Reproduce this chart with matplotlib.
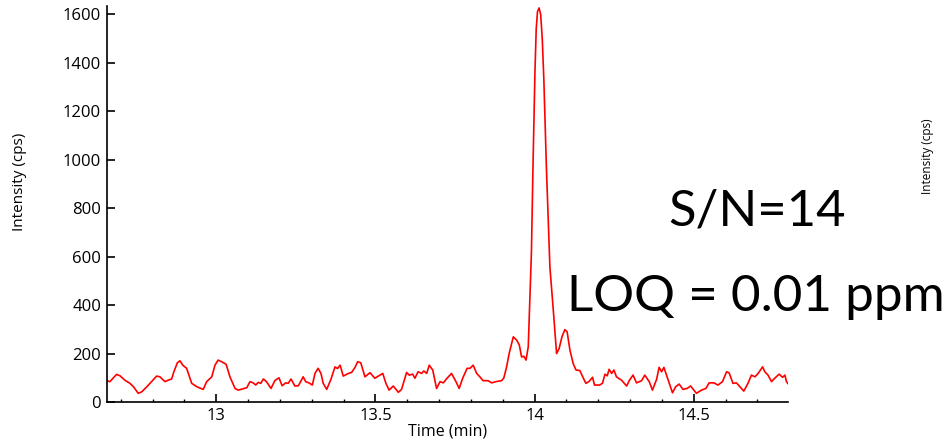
import matplotlib.pyplot as plt
from matplotlib.ticker import MultipleLocator

# chromatogram trace: retention time (min) and intensity (cps)
time_min = [
    12.656, 12.666, 12.687, 12.698, 12.713, 12.729, 12.740, 12.755, 12.766, 12.782,
    12.797, 12.813, 12.823, 12.839, 12.849, 12.860, 12.867, 12.878, 12.886, 12.895,
    12.907, 12.923, 12.939, 12.959, 12.970, 12.986, 12.996, 13.006, 13.017, 13.031,
    13.043, 13.059, 13.069, 13.096, 13.106, 13.116, 13.124, 13.132, 13.140, 13.148,
    13.158, 13.172, 13.184, 13.197, 13.207, 13.218, 13.226, 13.235, 13.247, 13.258,
    13.273, 13.281, 13.291, 13.302, 13.310, 13.320, 13.329, 13.336, 13.347, 13.360,
    13.373, 13.381, 13.389, 13.399, 13.415, 13.425, 13.436, 13.444, 13.454, 13.467,
    13.483, 13.498, 13.509, 13.523, 13.533, 13.543, 13.556, 13.572, 13.582, 13.598,
    13.606, 13.617, 13.624, 13.634, 13.645, 13.652, 13.661, 13.669, 13.680, 13.692,
    13.703, 13.713, 13.725, 13.739, 13.753, 13.763, 13.774, 13.788, 13.797, 13.807,
    13.818, 13.828, 13.838, 13.854, 13.865, 13.878, 13.896, 13.903, 13.912, 13.920,
    13.933, 13.944, 13.952, 13.959, 13.966, 13.973, 13.980, 13.985, 13.990, 13.995,
    14.001, 14.005, 14.009, 14.014, 14.019, 14.024, 14.029, 14.037, 14.048, 14.058,
    14.069, 14.077, 14.086, 14.095, 14.102, 14.111, 14.121, 14.130, 14.142, 14.151,
    14.161, 14.171, 14.182, 14.188, 14.204, 14.213, 14.221, 14.228, 14.234, 14.242,
    14.249, 14.257, 14.273, 14.289, 14.297, 14.309, 14.320, 14.336, 14.346, 14.360,
    14.370, 14.383, 14.391, 14.399, 14.406, 14.419, 14.433, 14.443, 14.454, 14.466,
    14.479, 14.490, 14.500, 14.508, 14.524, 14.538, 14.548, 14.563, 14.576, 14.590,
    14.603, 14.611, 14.623, 14.634, 14.645, 14.657, 14.670, 14.681, 14.692, 14.702,
    14.716, 14.723, 14.733, 14.744, 14.754, 14.768, 14.779, 14.786, 14.791, 14.797,
]
intensity_cps = [
    88, 84, 114, 108, 90, 77, 63, 36, 42, 63,
    84, 107, 104, 84, 90, 95, 125, 162, 170, 152,
    139, 77, 63, 52, 84, 104, 152, 173, 166, 156,
    104, 56, 49, 59, 84, 79, 70, 81, 77, 95,
    84, 56, 88, 100, 67, 79, 77, 95, 66, 67,
    104, 84, 79, 70, 118, 139, 118, 77, 52, 93,
    145, 138, 152, 107, 118, 122, 143, 166, 162, 104,
    121, 98, 107, 118, 77, 49, 66, 40, 52, 122,
    111, 115, 98, 125, 118, 128, 118, 152, 132, 56,
    84, 79, 98, 118, 84, 56, 98, 139, 139, 152,
    118, 104, 88, 88, 79, 84, 88, 98, 145, 200,
    269, 255, 235, 186, 189, 173, 228, 420, 620, 980,
    1360, 1540, 1612, 1627, 1600, 1500, 1330, 968, 557, 390,
    200, 221, 270, 299, 290, 214, 159, 132, 130, 104,
    77, 85, 102, 70, 70, 77, 115, 108, 135, 118,
    132, 104, 90, 66, 88, 111, 79, 88, 111, 84,
    49, 93, 143, 125, 143, 93, 38, 63, 74, 52,
    56, 66, 49, 36, 49, 56, 79, 79, 70, 84,
    125, 120, 77, 79, 63, 45, 77, 111, 104, 118,
    145, 125, 111, 84, 98, 115, 102, 111, 84, 74,
]

y_ticks = [0, 200, 400, 600, 800, 1000, 1200, 1400, 1600]
x_ticks = [13, 13.5, 14, 14.5]

plt.rcParams['font.family'] = ['Open Sans', 'DejaVu Sans']

fig = plt.figure(figsize=(9.51, 4.42), dpi=100)
ax = fig.add_axes([0.1122, 0.0905, 0.7168, 0.8959])

ax.plot(time_min, intensity_cps, color='#ff0000', linewidth=1.2)

ax.set_xlim(12.656, 14.797)
ax.set_ylim(0, 1635)
ax.set_xticks(x_ticks)
ax.set_xticklabels(['13', '13.5', '14', '14.5'])
ax.xaxis.set_minor_locator(MultipleLocator(0.1))
ax.set_yticks(y_ticks)

for s in ['top', 'right']:
    ax.spines[s].set_visible(False)
for s in ['left', 'bottom']:
    ax.spines[s].set_linewidth(1.2)

ax.tick_params(axis='both', which='major', direction='in', length=6, width=1.2,
               labelsize=12, pad=4)
ax.tick_params(axis='x', which='minor', direction='in', length=2.5, width=1.0)

ax.set_xlabel('Time (min)', fontsize=11.5, labelpad=0)

fig.text(20 / 951, 1 - 182 / 442, 'Intensity (cps)', rotation=90,
         ha='center', va='center', fontsize=11)
fig.text(928 / 951, 1 - 156 / 442, 'Intensity (cps)', rotation=90,
         ha='center', va='center', fontsize=8.5)

# annotations
fig.text(757 / 951, 1 - 211 / 442, 'S/N=14', ha='center', va='center',
         fontsize=36.5, family='Lato')
fig.text(756 / 951, 1 - 297 / 442, 'LOQ = 0.01 ppm', ha='center', va='center',
         fontsize=36.8, family='Lato')

fig.savefig('out.png', dpi=100)
